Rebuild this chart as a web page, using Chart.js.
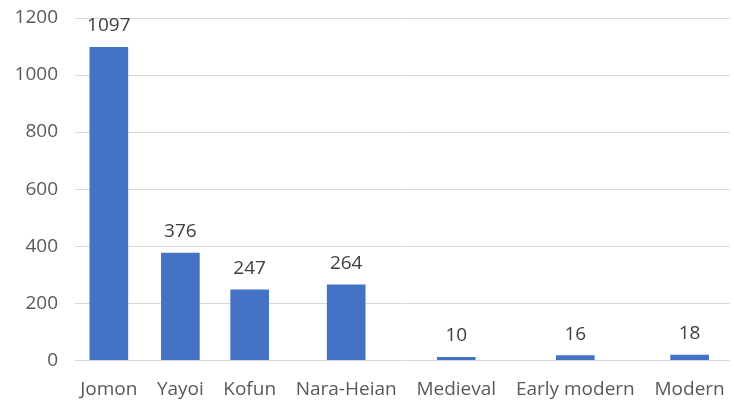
<!DOCTYPE html>
<html lang="en">
<head>
  <meta charset="UTF-8" />
  <title>Sites by period</title>
  <script src="https://cdn.jsdelivr.net/npm/chart.js"></script>
  <style>
    body { margin: 0; background: #fff; }
    #chart-container { width: 734px; height: 403px; }
  </style>
</head>
<body>
  <div id="chart-container">
    <canvas id="periodChart"></canvas>
  </div>

  <script>
    const categories = ['Jomon', 'Yayoi', 'Kofun', 'Nara-Heian', 'Medieval', 'Early modern', 'Modern'];
    const counts = [1097, 376, 247, 264, 10, 16, 18];
    const yTicks = [0, 200, 400, 600, 800, 1000, 1200];

    const FONT = '"Open Sans", "Noto Sans", sans-serif';
    const FONT_SIZE = 19;

    // category slots are as wide as their label plus a gap (like the original)
    const m = document.createElement('canvas').getContext('2d');
    m.font = FONT_SIZE + 'px ' + FONT;
    const gap = 19, edge = 5;
    let pos = edge;
    const centers = categories.map(c => {
      const w = m.measureText(c).width;
      const mid = pos + w / 2;
      pos += w + gap;
      return mid;
    });
    const xMax = pos - gap + edge;

    const valueLabels = {
      id: 'valueLabels',
      afterDatasetsDraw(chart) {
        const ctx = chart.ctx;
        const meta = chart.getDatasetMeta(0);
        ctx.save();
        ctx.font = FONT_SIZE + 'px ' + FONT;
        ctx.fillStyle = '#404040';
        ctx.textAlign = 'center';
        ctx.textBaseline = 'bottom';
        meta.data.forEach((bar, i) => {
          ctx.fillText(String(counts[i]), bar.x, bar.y - 12);
        });
        ctx.restore();
      }
    };

    const ctx = document.getElementById('periodChart').getContext('2d');
    new Chart(ctx, {
      type: 'bar',
      data: {
        datasets: [{
          data: counts.map((v, i) => ({ x: centers[i], y: v })),
          backgroundColor: '#4472C4',
          barThickness: 38
        }]
      },
      options: {
        responsive: true,
        maintainAspectRatio: false,
        animation: false,
        layout: { padding: { top: 0, left: 15, right: 4, bottom: -8 } },
        scales: {
          x: {
            type: 'linear',
            offset: false,
            min: 0,
            max: xMax,
            afterBuildTicks: axis => { axis.ticks = centers.map(v => ({ value: v })); },
            afterFit: axis => { axis.paddingLeft = 0; axis.paddingRight = 0; },
            ticks: {
              autoSkip: false,
              maxRotation: 0,
              padding: 10,
              color: '#595959',
              font: { family: FONT, size: FONT_SIZE },
              callback: (v, i) => categories[i]
            },
            grid: { display: false },
            border: { display: false }
          },
          y: {
            min: 0,
            max: 1200,
            afterBuildTicks: axis => { axis.ticks = yTicks.map(v => ({ value: v })); },
            afterFit: axis => { axis.width = 60; axis.paddingTop = 18; },
            ticks: {
              padding: 17,
              color: '#595959',
              font: { family: FONT, size: FONT_SIZE },
              callback: v => String(v)
            },
            grid: { color: '#d9d9d9', drawTicks: false },
            border: { display: false }
          }
        },
        plugins: {
          legend: { display: false },
          tooltip: { enabled: false }
        }
      },
      plugins: [valueLabels]
    });
  </script>
</body>
</html>
